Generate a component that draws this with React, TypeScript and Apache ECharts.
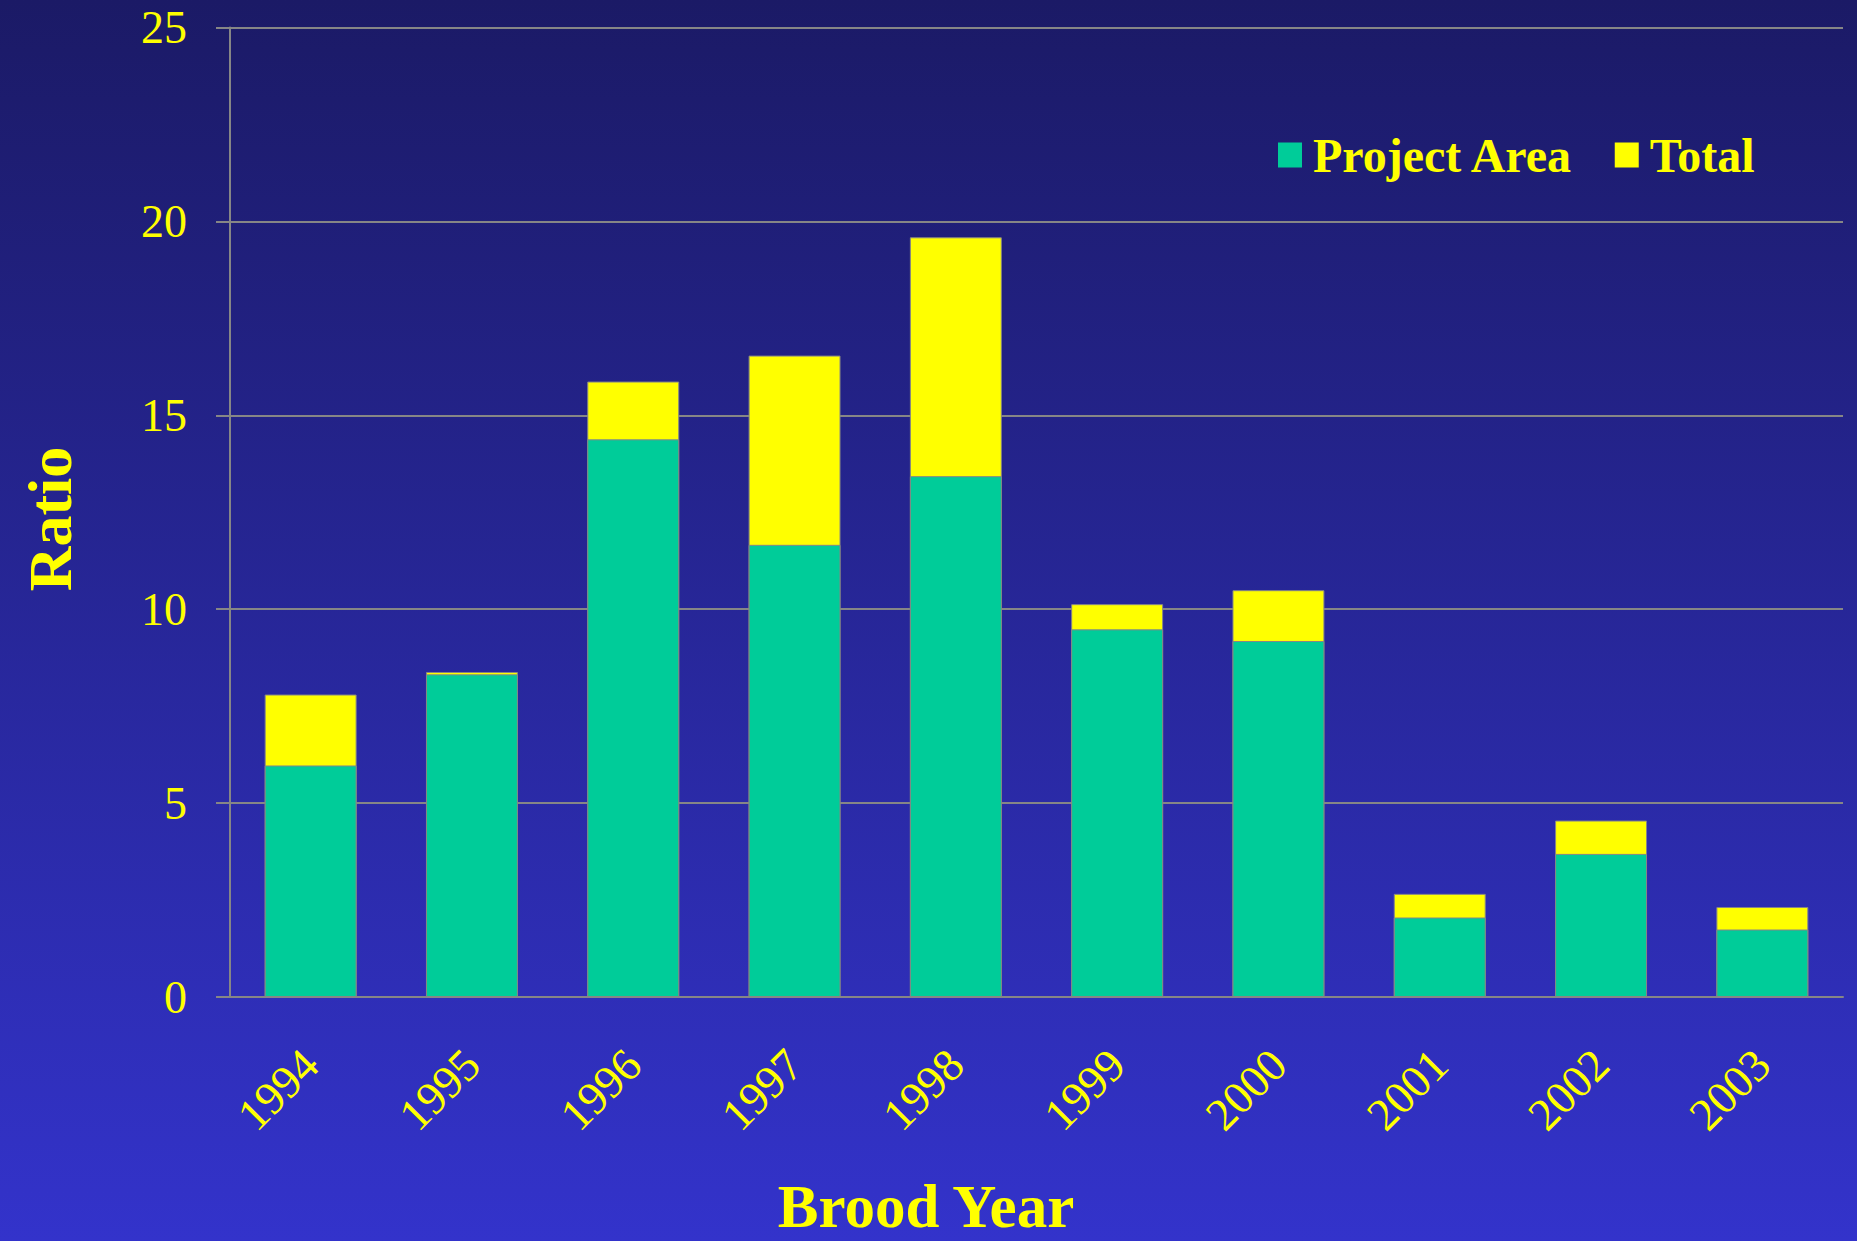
import React, { useEffect, useRef } from "react";
import * as echarts from "echarts";

const years = ["1994", "1995", "1996", "1997", "1998", "1999", "2000", "2001", "2002", "2003"];
const projectArea = [5.97, 8.32, 14.38, 11.66, 13.43, 9.48, 9.18, 2.05, 3.69, 1.74];
const total = [7.8, 8.38, 15.87, 16.54, 19.59, 10.13, 10.49, 2.66, 4.55, 2.32];
const yTicks = { min: 0, max: 25, interval: 5 };
const xTitle = "Brood Year";
const yTitle = "Ratio";

const FONT = "'Liberation Serif', 'Times New Roman', serif";
const YELLOW = "#ffff00";
const GREEN = "#00cc99";
const GRAY = "#868686";

export default function App() {
  const ref = useRef<HTMLDivElement>(null);

  useEffect(() => {
    document.body.style.margin = "0";
    const chart = echarts.init(ref.current!, null, { renderer: "svg" });
    chart.setOption({
      animation: false,
      backgroundColor: new echarts.graphic.LinearGradient(0, 0, 0, 1, [
        { offset: 0, color: "#1b1a66" },
        { offset: 1, color: "#3333cb" },
      ]),
      grid: {
        left: 230,
        right: 14,
        top: 27.5,
        bottom: 244,
        containLabel: false,
        outerBoundsMode: "none",
      },
      legend: {
        data: ["Project Area", "Total"],
        left: 1278,
        top: 131,
        padding: 0,
        icon: "rect",
        itemWidth: 24,
        itemHeight: 25,
        itemGap: 41,
        itemStyle: { borderWidth: 0 },
        textStyle: {
          color: YELLOW,
          fontFamily: FONT,
          fontWeight: "bold",
          fontSize: 48,
          padding: [0, 0, 0, 6],
        },
      },
      graphic: [
        {
          type: "text",
          x: 50,
          y: 519,
          rotation: Math.PI / 2,
          style: {
            text: yTitle,
            fill: YELLOW,
            font: `bold 62px ${FONT}`,
            textAlign: "center",
            textVerticalAlign: "middle",
          },
        },
        {
          type: "text",
          x: 926,
          y: 1206,
          style: {
            text: xTitle,
            fill: YELLOW,
            font: `bold 61px ${FONT}`,
            lineHeight: 48,
            textAlign: "center",
            textVerticalAlign: "middle",
          },
        },
      ],
      xAxis: {
        type: "category",
        data: years,
        axisLine: { show: true, lineStyle: { color: GRAY, width: 2 } },
        axisTick: { show: false },
        axisLabel: {
          color: YELLOW,
          fontFamily: FONT,
          fontSize: 46,
          rotate: 45,
          margin: 60,
        },
      },
      yAxis: {
        type: "value",
        min: yTicks.min,
        max: yTicks.max,
        interval: yTicks.interval,
        axisLine: { show: true, lineStyle: { color: GRAY, width: 2 } },
        axisTick: { show: true, length: 14, lineStyle: { color: GRAY, width: 2 } },
        splitLine: { show: true, lineStyle: { color: GRAY, width: 2 } },
        axisLabel: { color: YELLOW, fontFamily: FONT, fontSize: 46, margin: 43 },
      },
      series: [
        {
          name: "Total",
          type: "bar",
          data: total,
          z: 1,
          barGap: "-100%",
          barCategoryGap: "43%",
          itemStyle: { color: YELLOW, borderColor: GRAY, borderWidth: 1 },
        },
        {
          name: "Project Area",
          type: "bar",
          data: projectArea,
          z: 2,
          barGap: "-100%",
          barCategoryGap: "43%",
          itemStyle: { color: GREEN, borderColor: GRAY, borderWidth: 1 },
        },
      ],
    });
    return () => chart.dispose();
  }, []);

  return (
    <div
      ref={ref}
      style={{ position: "absolute", left: 0, top: 0, width: 1857, height: 1241 }}
    />
  );
}
